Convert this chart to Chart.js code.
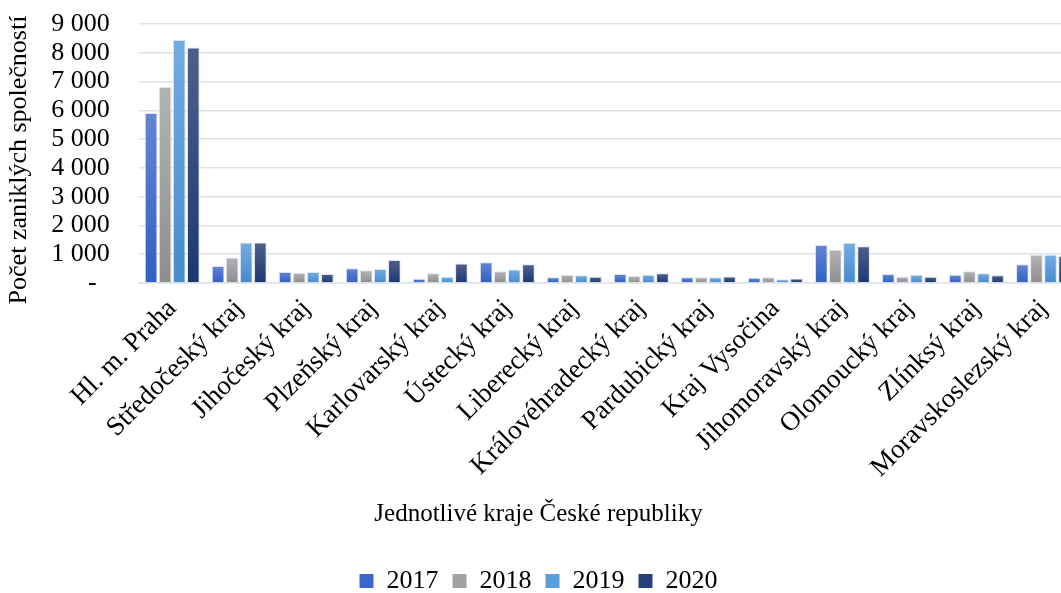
<!DOCTYPE html>
<html>
<head>
<meta charset="utf-8">
<script src="https://cdn.jsdelivr.net/npm/chart.js@4"></script>
<style>
    html, body { margin: 0; padding: 0; background: #fff; overflow: hidden; }
    #wrap { width: 1080px; height: 593px; }
</style>
</head>
<body>
<div id="wrap"><canvas id="chart"></canvas></div>
<script>
// Kraje a hodnoty
const categories = [
    'Hl. m. Praha', 'Středočeský kraj', 'Jihočeský kraj', 'Plzeňský kraj',
    'Karlovarský kraj', 'Ústecký kraj', 'Liberecký kraj', 'Královéhradecký kraj',
    'Pardubický kraj', 'Kraj Vysočina', 'Jihomoravský kraj', 'Olomoucký kraj',
    'Zlínksý kraj', 'Moravskoslezský kraj'
];
const seriesLabels = ['2017', '2018', '2019', '2020'];
const values2017 = [5906, 590, 380, 510, 150, 720, 200, 310, 200, 180, 1320, 310, 290, 650];
const values2018 = [6808, 890, 360, 440, 340, 410, 290, 240, 200, 200, 1160, 220, 410, 980];
const values2019 = [8447, 1410, 380, 490, 220, 470, 270, 290, 200, 130, 1400, 290, 340, 980];
const values2020 = [8180, 1410, 310, 800, 680, 650, 220, 340, 230, 160, 1280, 220, 270, 940];

// Barvy (horní a spodní část přechodu, barva v legendě)
const topColors = ['#6585d3', '#b3b3b3', '#74ace4', '#4f5f8c'];
const bottomColors = ['#3060c2', '#8e8e8e', '#468bcb', '#1c3871'];
const legendColors = ['#3a68cc', '#a2a2a2', '#5a9edd', '#26407a'];

const font = 'Liberation Serif, Times New Roman, serif';

const gradientFill = (i) => (c) => {
    const chart = c.chart;
    const { ctx, chartArea, scales } = chart;
    if (!chartArea || c.type !== 'data') return legendColors[i];
    const top = scales.y.getPixelForValue(c.raw);
    const base = scales.y.getPixelForValue(0);
    const g = ctx.createLinearGradient(0, top, 0, base);
    g.addColorStop(0, topColors[i]);
    g.addColorStop(1, bottomColors[i]);
    return g;
};

const allValues = [values2017, values2018, values2019, values2020];
const datasets = allValues.map((vals, i) => ({
    label: seriesLabels[i],
    data: vals,
    backgroundColor: gradientFill(i),
    borderColor: 'rgba(215, 225, 242, 0.9)',
    borderWidth: 1,
    categoryPercentage: 0.84,
    barPercentage: 0.9,
}));

// mezera mezi popiskem osy a grafem se dělá nezlomitelnými mezerami
const gap = '\u00a0\u00a0\u00a0\u00a0';
const formatTick = (v) => {
    if (v === 0) return '-\u00a0\u00a0' + gap;
    return String(v).replace(/\B(?=(\d{3})+(?!\d))/g, ' ') + gap;
};

new Chart(document.getElementById('chart'), {
    type: 'bar',
    data: { labels: categories, datasets: datasets },
    options: {
        responsive: true,
        maintainAspectRatio: false,
        animation: false,
        layout: { padding: { top: 24, left: 0, right: 3, bottom: -11 } },
        scales: {
            y: {
                min: 0,
                max: 9000,
                ticks: {
                    stepSize: 1000,
                    autoSkip: false,
                    callback: formatTick,
                    color: '#000',
                    padding: 3,
                    font: { family: font, size: 26 },
                },
                grid: { color: '#dfe2e8', lineWidth: 1.5, drawTicks: false },
                border: { display: false },
                title: {
                    display: true,
                    text: 'Počet zaniklých společností\u00a0\u00a0',
                    color: '#000',
                    font: { family: font, size: 26 },
                    padding: { top: 4, bottom: 13 },
                },
            },
            x: {
                ticks: {
                    maxRotation: 45,
                    minRotation: 45,
                    color: '#000',
                    padding: 2,
                    autoSkip: false,
                    font: { family: font, size: 27 },
                },
                grid: { display: false },
                border: { color: '#dfe2e8', width: 1.5 },
            },
        },
        plugins: {
            title: {
                display: true,
                position: 'bottom',
                text: 'Jednotlivé kraje České republiky',
                color: '#000',
                font: { family: font, size: 25, weight: 'normal' },
                padding: { top: 13, bottom: 25 },
                weight: 500,
            },
            legend: {
                position: 'bottom',
                labels: {
                    color: '#000',
                    boxWidth: 14,
                    boxHeight: 14,
                    padding: 14,
                    font: { family: font, size: 26 },
                    generateLabels: (chart) => chart.data.datasets.map((ds, i) => ({
                        text: ds.label,
                        fillStyle: legendColors[i],
                        strokeStyle: legendColors[i],
                        lineWidth: 0,
                        hidden: false,
                        datasetIndex: i,
                        fontColor: '#000',
                    })),
                },
            },
            tooltip: { enabled: false },
        },
    },
});
</script>
</body>
</html>
